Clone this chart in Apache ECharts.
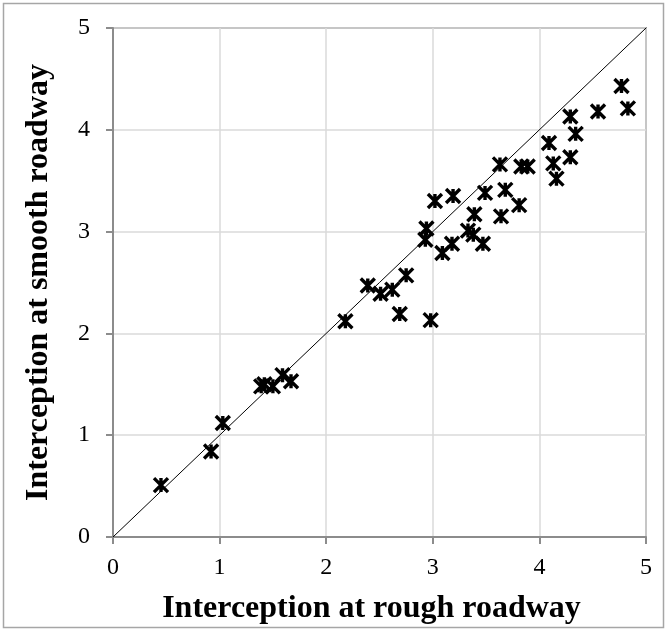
<!DOCTYPE html>
<html>
<head>
<meta charset="utf-8">
<script src="https://cdn.jsdelivr.net/npm/echarts@6/dist/echarts.min.js"></script>
<style>
html,body{margin:0;padding:0;background:#fff;}
#chart{width:668px;height:630px;}
</style>
</head>
<body>
<div id="chart"></div>
<script>
var roughValues = [0.45,0.92,1.03,1.39,1.42,1.50,1.59,1.67,2.18,2.39,2.51,2.62,2.69,2.75,2.98,2.94,2.93,3.02,3.09,3.18,3.19,3.33,3.38,3.39,3.47,3.49,3.63,3.64,3.68,3.81,3.83,3.89,4.09,4.13,4.16,4.29,4.29,4.34,4.55,4.77,4.83];
var smoothValues = [0.51,0.84,1.12,1.48,1.50,1.48,1.59,1.53,2.12,2.47,2.39,2.43,2.19,2.57,2.13,3.03,2.92,3.30,2.79,2.88,3.35,3.01,2.97,3.17,2.88,3.38,3.66,3.15,3.41,3.26,3.64,3.64,3.87,3.67,3.52,3.73,4.13,3.96,4.18,4.43,4.21];
var lineX = [0,5];
var lineY = [0,5];
var tickValues = [0,1,2,3,4,5];
var xTitle = 'Interception at rough roadway';
var yTitle = 'Interception at smooth roadway';

var points = roughValues.map(function(v,i){return [v, smoothValues[i]];});
var linePts = lineX.map(function(v,i){return [v, lineY[i]];});

var chart = echarts.init(document.getElementById('chart'), null, {renderer:'canvas'});
var font = '"Liberation Serif","Times New Roman",serif';
function axis(name, gap){
  return {
    type:'value', min:tickValues[0], max:tickValues[tickValues.length-1], interval:1,
    name:name, nameLocation:'middle', nameGap:gap,
    nameTextStyle:{fontFamily:font, fontWeight:'bold', fontSize:32, color:'#000'},
    axisLine:{show:true, lineStyle:{color:'#8c8c8c', width:2}},
    axisTick:{show:true, length:7, lineStyle:{color:'#8c8c8c', width:2}},
    axisLabel:{fontFamily:font, fontSize:24, color:'#000'},
    splitLine:{show:true, lineStyle:{color:'#dadada', width:1.5}}
  };
}
var xa = axis(xTitle, 56); xa.axisLabel.margin = 19;
xa.nameTextStyle.padding = [0, 16, 0, 0];
var ya = axis(yTitle, 58); ya.axisLabel.margin = 23;
chart.setOption({
  animation:false,
  backgroundColor:'#fff',
  grid:{left:113, right:22, top:28, bottom:92, show:true, borderColor:'#8c8c8c', borderWidth:2, backgroundColor:'transparent'},
  xAxis: xa,
  yAxis: ya,
  graphic:[{type:'rect', shape:{x:3.5,y:3.5,width:660,height:624}, style:{fill:null, stroke:'#a6a6a6', lineWidth:1.5}, silent:true, z:-1}],
  series:[
    {type:'line', data:linePts, showSymbol:false, symbol:'none', lineStyle:{color:'#000', width:1}, z:2},
    {type:'scatter', data:points, symbol:'path://M0,0L10,10M10,0L0,10M5,0L5,10', symbolSize:[14,14],
     itemStyle:{color:'#000', borderColor:'#000', borderWidth:3.4, opacity:1}, z:3}
  ]
});
</script>
</body>
</html>
